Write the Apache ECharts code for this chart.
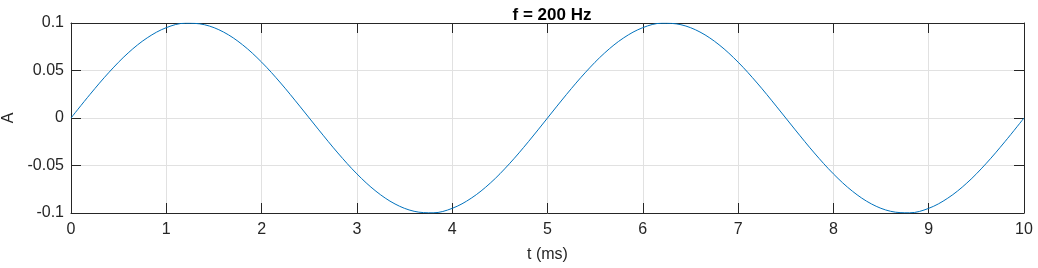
<!DOCTYPE html>
<html>
<head>
<meta charset="utf-8">
<script src="https://cdn.jsdelivr.net/npm/echarts@6/dist/echarts.min.js"></script>
<style>html,body{margin:0;padding:0;background:#fff;}#c{width:1038px;height:268px;}</style>
</head>
<body>
<div id="c"></div>
<script>
// time in ms
var timeMs = [0,0.2,0.4,0.6,0.8,1.0,1.2,1.4,1.6,1.8,2.0,2.2,2.4,2.6,2.8,3.0,3.2,3.4,3.6,3.8,4.0,4.2,4.4,4.6,4.8,
  5.0,5.2,5.4,5.6,5.8,6.0,6.2,6.4,6.6,6.8,7.0,7.2,7.4,7.6,7.8,8.0,8.2,8.4,8.6,8.8,9.0,9.2,9.4,9.6,9.8,10.0];
// amplitude
var amplitude = [0,0.0249,0.0482,0.0685,0.0844,0.0951,0.0998,0.0982,0.0905,0.0771,0.0588,0.0368,0.0125,-0.0125,-0.0368,
  -0.0588,-0.0771,-0.0905,-0.0982,-0.0998,-0.0951,-0.0844,-0.0685,-0.0482,-0.0249,
  0,0.0249,0.0482,0.0685,0.0844,0.0951,0.0998,0.0982,0.0905,0.0771,0.0588,0.0368,0.0125,-0.0125,-0.0368,
  -0.0588,-0.0771,-0.0905,-0.0982,-0.0998,-0.0951,-0.0844,-0.0685,-0.0482,-0.0249,0];
var xTicks = ['0','1','2','3','4','5','6','7','8','9','10'];
var yTicks = ['-0.1','-0.05','0','0.05','0.1'];
var titleText = 'f = 200 Hz';
var xName = 't (ms)';
var yName = 'A';

var points = timeMs.map(function(t,i){return [t, amplitude[i]];});
var dark = '#262626';
var font = 'Liberation Sans';
var chart = echarts.init(document.getElementById('c'), null, {renderer:'canvas'});
var axisLine = {show:true,onZero:false,lineStyle:{color:dark,width:1}};
var axisTick = {show:true,inside:true,length:10,lineStyle:{color:dark,width:1}};
chart.setOption({
  animation:false,
  backgroundColor:'#fff',
  title:{text:titleText,left:547,textAlign:'center',top:2,
    textStyle:{fontFamily:font,fontSize:17,fontWeight:'bold',color:'#000'}},
  grid:{left:71,top:23,width:953,height:190,containLabel:false,outerBoundsMode:'none'},
  xAxis:[{
    type:'value',min:0,max:10,interval:1,position:'bottom',
    name:xName,nameLocation:'middle',nameGap:34,
    nameTextStyle:{fontFamily:font,fontSize:16,color:dark},
    axisLine:axisLine,axisTick:axisTick,
    axisLabel:{fontFamily:font,fontSize:16,color:dark,margin:9,formatter:function(v){return xTicks[Math.round(v)];}},
    splitLine:{show:true,lineStyle:{color:'#e1e1e1',width:1}}
  },{
    type:'value',min:0,max:10,interval:1,position:'top',
    axisLine:axisLine,axisTick:axisTick,axisLabel:{show:false},splitLine:{show:false}
  }],
  yAxis:[{
    type:'value',min:-0.1,max:0.1,interval:0.05,position:'left',
    name:yName,nameLocation:'middle',nameGap:54,nameRotate:90,
    nameTextStyle:{fontFamily:font,fontSize:16,color:dark},
    axisLine:axisLine,axisTick:axisTick,
    axisLabel:{fontFamily:font,fontSize:16,color:dark,margin:7,formatter:function(v){var i=Math.round((v+0.1)/0.05);return yTicks[i];}},
    splitLine:{show:true,lineStyle:{color:'#e1e1e1',width:1}}
  },{
    type:'value',min:-0.1,max:0.1,interval:0.05,position:'right',
    axisLine:axisLine,axisTick:axisTick,axisLabel:{show:false},splitLine:{show:false}
  }],
  series:[{
    type:'line',data:points,xAxisIndex:0,yAxisIndex:0,
    showSymbol:false,smooth:0.35,
    lineStyle:{color:'#0072BD',width:1},
    z:5
  }]
});
</script>
</body>
</html>
